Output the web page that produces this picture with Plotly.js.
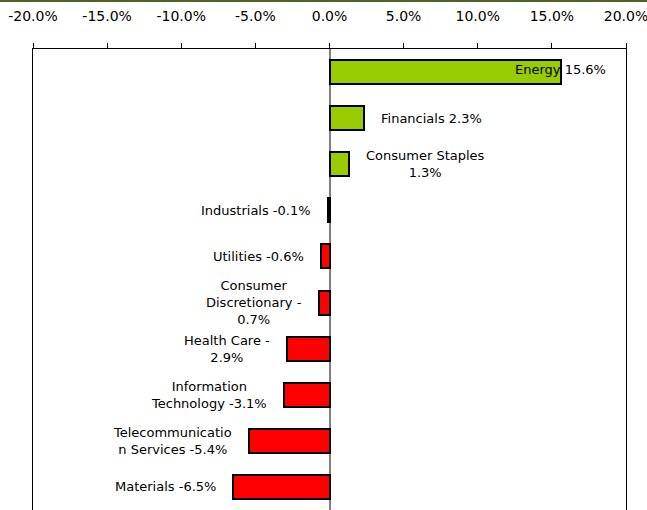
<!DOCTYPE html>
<html>
<head>
<meta charset="utf-8">
<script src="https://cdn.plot.ly/plotly-3.0.1.min.js"></script>
<style>
  body { margin: 0; padding: 0; background: #fff; }
  #chart { width: 647px; height: 508px; border-top: 2px solid #4f6228; }
</style>
</head>
<body>
<div id="chart"></div>
<script>

// sector returns, in percent
var sectors = ['Energy', 'Financials', 'Consumer Staples', 'Industrials', 'Utilities',
               'Consumer Discretionary', 'Health Care', 'Information Technology',
               'Telecommunication Services', 'Materials'];
var returns = [15.6, 2.3, 1.3, -0.1, -0.6, -0.7, -2.9, -3.1, -5.4, -6.5];

// labels as they wrap in the original
var labels = ['Energy 15.6%', 'Financials 2.3%', 'Consumer Staples<br>1.3%', 'Industrials -0.1%',
              'Utilities -0.6%', 'Consumer<br>Discretionary -<br>0.7%', 'Health Care -<br>2.9%',
              'Information<br>Technology -3.1%', 'Telecommunicatio<br>n Services -5.4%',
              'Materials -6.5%'];

var tickVals = [-20, -15, -10, -5, 0, 5, 10, 15, 20];
var tickText = ['-20.0%', '-15.0%', '-10.0%', '-5.0%', '0.0%', '5.0%', '10.0%', '15.0%', '20.0%'];

var colors = returns.map(function (v) { return v >= 0 ? '#99cc00' : '#ff0000'; });

var trace = {
    x: returns,
    y: sectors,
    type: 'bar',
    orientation: 'h',
    width: 0.52,
    marker: {color: colors, line: {color: '#000', width: 2}},
    hoverinfo: 'x+y'
};

var annotations = [];
for (var i = 0; i < sectors.length; i++) {
    var v = returns[i];
    var a = {
        x: v, y: sectors[i], xref: 'x', yref: 'y',
        text: labels[i], showarrow: false, align: 'center',
        font: {family: 'DejaVu Sans', size: 13, color: '#000'}
    };
    if (i === 0) {
        a.xanchor = 'center';
        a.yshift = 3;
    } else if (v >= 0) {
        a.xanchor = 'left';
        a.xshift = 15;
    } else {
        a.xanchor = 'right';
        a.xshift = -15;
    }
    annotations.push(a);
}

var layout = {
    width: 647,
    height: 508,
    margin: {l: 33, r: 21, t: 47, b: 0},
    paper_bgcolor: '#fff',
    plot_bgcolor: '#fff',
    showlegend: false,
    bargap: 0,
    font: {family: 'DejaVu Sans', color: '#000'},
    xaxis: {
        side: 'top',
        range: [-20, 20],
        tickvals: tickVals,
        ticktext: tickText,
        ticks: 'outside',
        ticklen: 5,
        tickcolor: '#000',
        ticklabelstandoff: 16,
        ticklabeloverflow: 'allow',
        tickfont: {family: 'DejaVu Sans', size: 14, color: '#000'},
        showline: true,
        linecolor: '#000',
        linewidth: 1,
        showgrid: false,
        zeroline: true,
        zerolinecolor: '#808080',
        zerolinewidth: 2,
        fixedrange: true
    },
    yaxis: {
        type: 'category',
        categoryorder: 'array',
        categoryarray: sectors,
        autorange: 'reversed',
        showticklabels: false,
        ticks: '',
        showgrid: false,
        showline: true,
        mirror: true,
        linecolor: '#000',
        linewidth: 1,
        fixedrange: true
    },
    annotations: annotations
};

Plotly.newPlot('chart', [trace], layout, {displayModeBar: false});

</script>
</body>
</html>
